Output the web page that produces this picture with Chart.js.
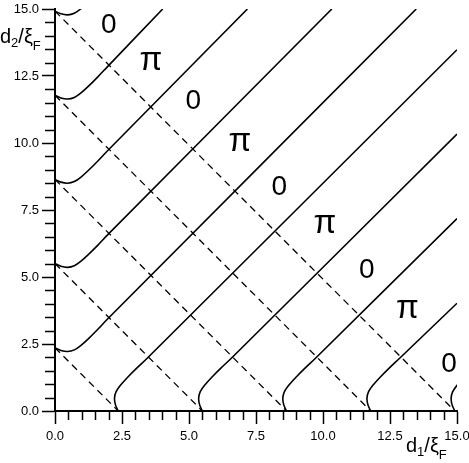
<!DOCTYPE html>
<html>
<head>
<meta charset="utf-8">
<script src="https://cdn.jsdelivr.net/npm/chart.js@4.4.1/dist/chart.umd.min.js"></script>
<style>
  html, body { margin: 0; padding: 0; background: #fff; }
  .chart-wrapper { position: relative; width: 469px; height: 463px; }
</style>
</head>
<body>
<div class="chart-wrapper"><canvas id="myChart"></canvas></div>
<script>
// where each boundary meets the axes (d/ξF)
const starts = [2.36, 5.50, 8.64, 11.78, 14.92];
// hook shape next to the axis: along the axis / away from it
const hookAlong = [0, -0.10, -0.14, -0.08, 0.09, 0.37, 0.68, 1.08];
const hookAcross = [0, 0.22, 0.47, 0.72, 0.97, 1.28, 1.59, 1.97];
// where the straight part leaves the frame (other coordinate is 15)
const ends = [13.48, 10.33, 7.18, 4.02, null];

// 0 / π region labels
const labelText = ['0', 'π', '0', 'π', '0', 'π', '0', 'π', '0'];
const labelD1 = [2.01, 3.58, 5.16, 6.90, 8.37, 10.07, 11.63, 13.15, 14.70];
const labelD2 = [14.47, 13.02, 11.63, 9.99, 8.43, 6.94, 5.32, 3.77, 1.84];

const tickLabels = ['0.0', '2.5', '5.0', '7.5', '10.0', '12.5', '15.0'];

const FONT = '"Liberation Sans", Arial, Helvetica, sans-serif';

function solid(points) {
    return {
        data: points,
        borderColor: '#000',
        borderWidth: 1.6,
        pointRadius: 0,
        tension: 0.35,
        fill: false
    };
}

const datasets = [];
starts.forEach((s, i) => {
    let bottom = hookAlong.map((a, k) => ({ x: s + a, y: hookAcross[k] }));
    let left = hookAlong.map((a, k) => ({ x: hookAcross[k], y: s + a }));
    if (ends[i] !== null) {
        bottom.push({ x: 15, y: ends[i] });
        left.push({ x: ends[i], y: 15 });
    }
    datasets.push(solid(bottom), solid(left));
    // dashed d1 + d2 = const line
    datasets.push({
        data: [{ x: 0, y: s }, { x: s, y: 0 }],
        borderColor: '#000',
        borderWidth: 1.3,
        borderDash: [7, 5],
        pointRadius: 0,
        tension: 0,
        fill: false
    });
});

// subscripted axis title, e.g. d1/ξF
function drawTitle(ctx, sub, left, base) {
    const big = '20px ' + FONT;
    const small = '13px ' + FONT;
    const parts = [['d', big, 0], [sub, small, 4], ['/', big, 0], ['ξ', big, 0], ['F', small, 6.5]];
    ctx.textAlign = 'left';
    ctx.textBaseline = 'alphabetic';
    let xp = left;
    parts.forEach(([t, f, dy]) => {
        ctx.font = f;
        ctx.fillText(t, xp, base + dy);
        xp += ctx.measureText(t).width;
    });
}

const overlay = {
    id: 'overlay',
    afterDraw(chart) {
        const { ctx, chartArea, scales: { x, y } } = chart;
        ctx.save();
        // minor ticks every 0.5
        ctx.strokeStyle = '#000';
        ctx.lineWidth = 1.5;
        ctx.beginPath();
        for (let i = 0; i <= 30; i++) {
            if (i % 5 === 0) continue;
            const px = Math.round(x.getPixelForValue(i * 0.5)) + 0.5;
            const py = Math.round(y.getPixelForValue(i * 0.5)) + 0.5;
            ctx.moveTo(px, chartArea.bottom);
            ctx.lineTo(px, chartArea.bottom + 9);
            ctx.moveTo(chartArea.left, py);
            ctx.lineTo(chartArea.left - 10, py);
        }
        ctx.stroke();

        ctx.fillStyle = '#000';
        ctx.textAlign = 'center';
        ctx.textBaseline = 'alphabetic';
        labelText.forEach((t, i) => {
            const isPi = t === 'π';
            ctx.font = (isPi ? '33px ' : '28px ') + FONT;
            ctx.fillText(t, x.getPixelForValue(labelD1[i]), y.getPixelForValue(labelD2[i]) + (isPi ? 8 : 10));
        });

        drawTitle(ctx, '1', chartArea.right - 51, chartArea.bottom + 41);
        drawTitle(ctx, '2', 0, chartArea.top + 34);
        ctx.restore();
    }
};

const axisTicks = {
    color: '#000',
    font: { family: FONT, size: 13 },
    stepSize: 2.5,
    maxRotation: 0,
    autoSkip: false,
    callback: (v, i) => tickLabels[i]
};

const ctx = document.getElementById('myChart').getContext('2d');
new Chart(ctx, {
    type: 'scatter',
    data: { datasets: datasets },
    plugins: [overlay],
    options: {
        responsive: true,
        maintainAspectRatio: false,
        devicePixelRatio: 1,
        animation: false,
        showLine: true,
        layout: { padding: { top: 9, right: 12, left: 0, bottom: 0 } },
        elements: { line: { capBezierPoints: false } },
        plugins: { legend: { display: false }, tooltip: { enabled: false } },
        scales: {
            x: {
                type: 'linear', min: 0, max: 15,
                ticks: { ...axisTicks, padding: 5 },
                grid: { drawOnChartArea: false, tickLength: 13, tickWidth: 1.5, tickColor: '#000' },
                border: { color: '#000', width: 2 },
                afterFit: (s) => { s.height = 52; s.paddingLeft = 0; s.paddingRight = 0; }
            },
            y: {
                type: 'linear', min: 0, max: 15,
                ticks: { ...axisTicks, padding: 3 },
                grid: { drawOnChartArea: false, tickLength: 13, tickWidth: 1.5, tickColor: '#000' },
                border: { color: '#000', width: 2 },
                afterFit: (s) => { s.width = 55; s.paddingTop = 0; s.paddingBottom = 0; }
            }
        }
    }
});
</script>
</body>
</html>
